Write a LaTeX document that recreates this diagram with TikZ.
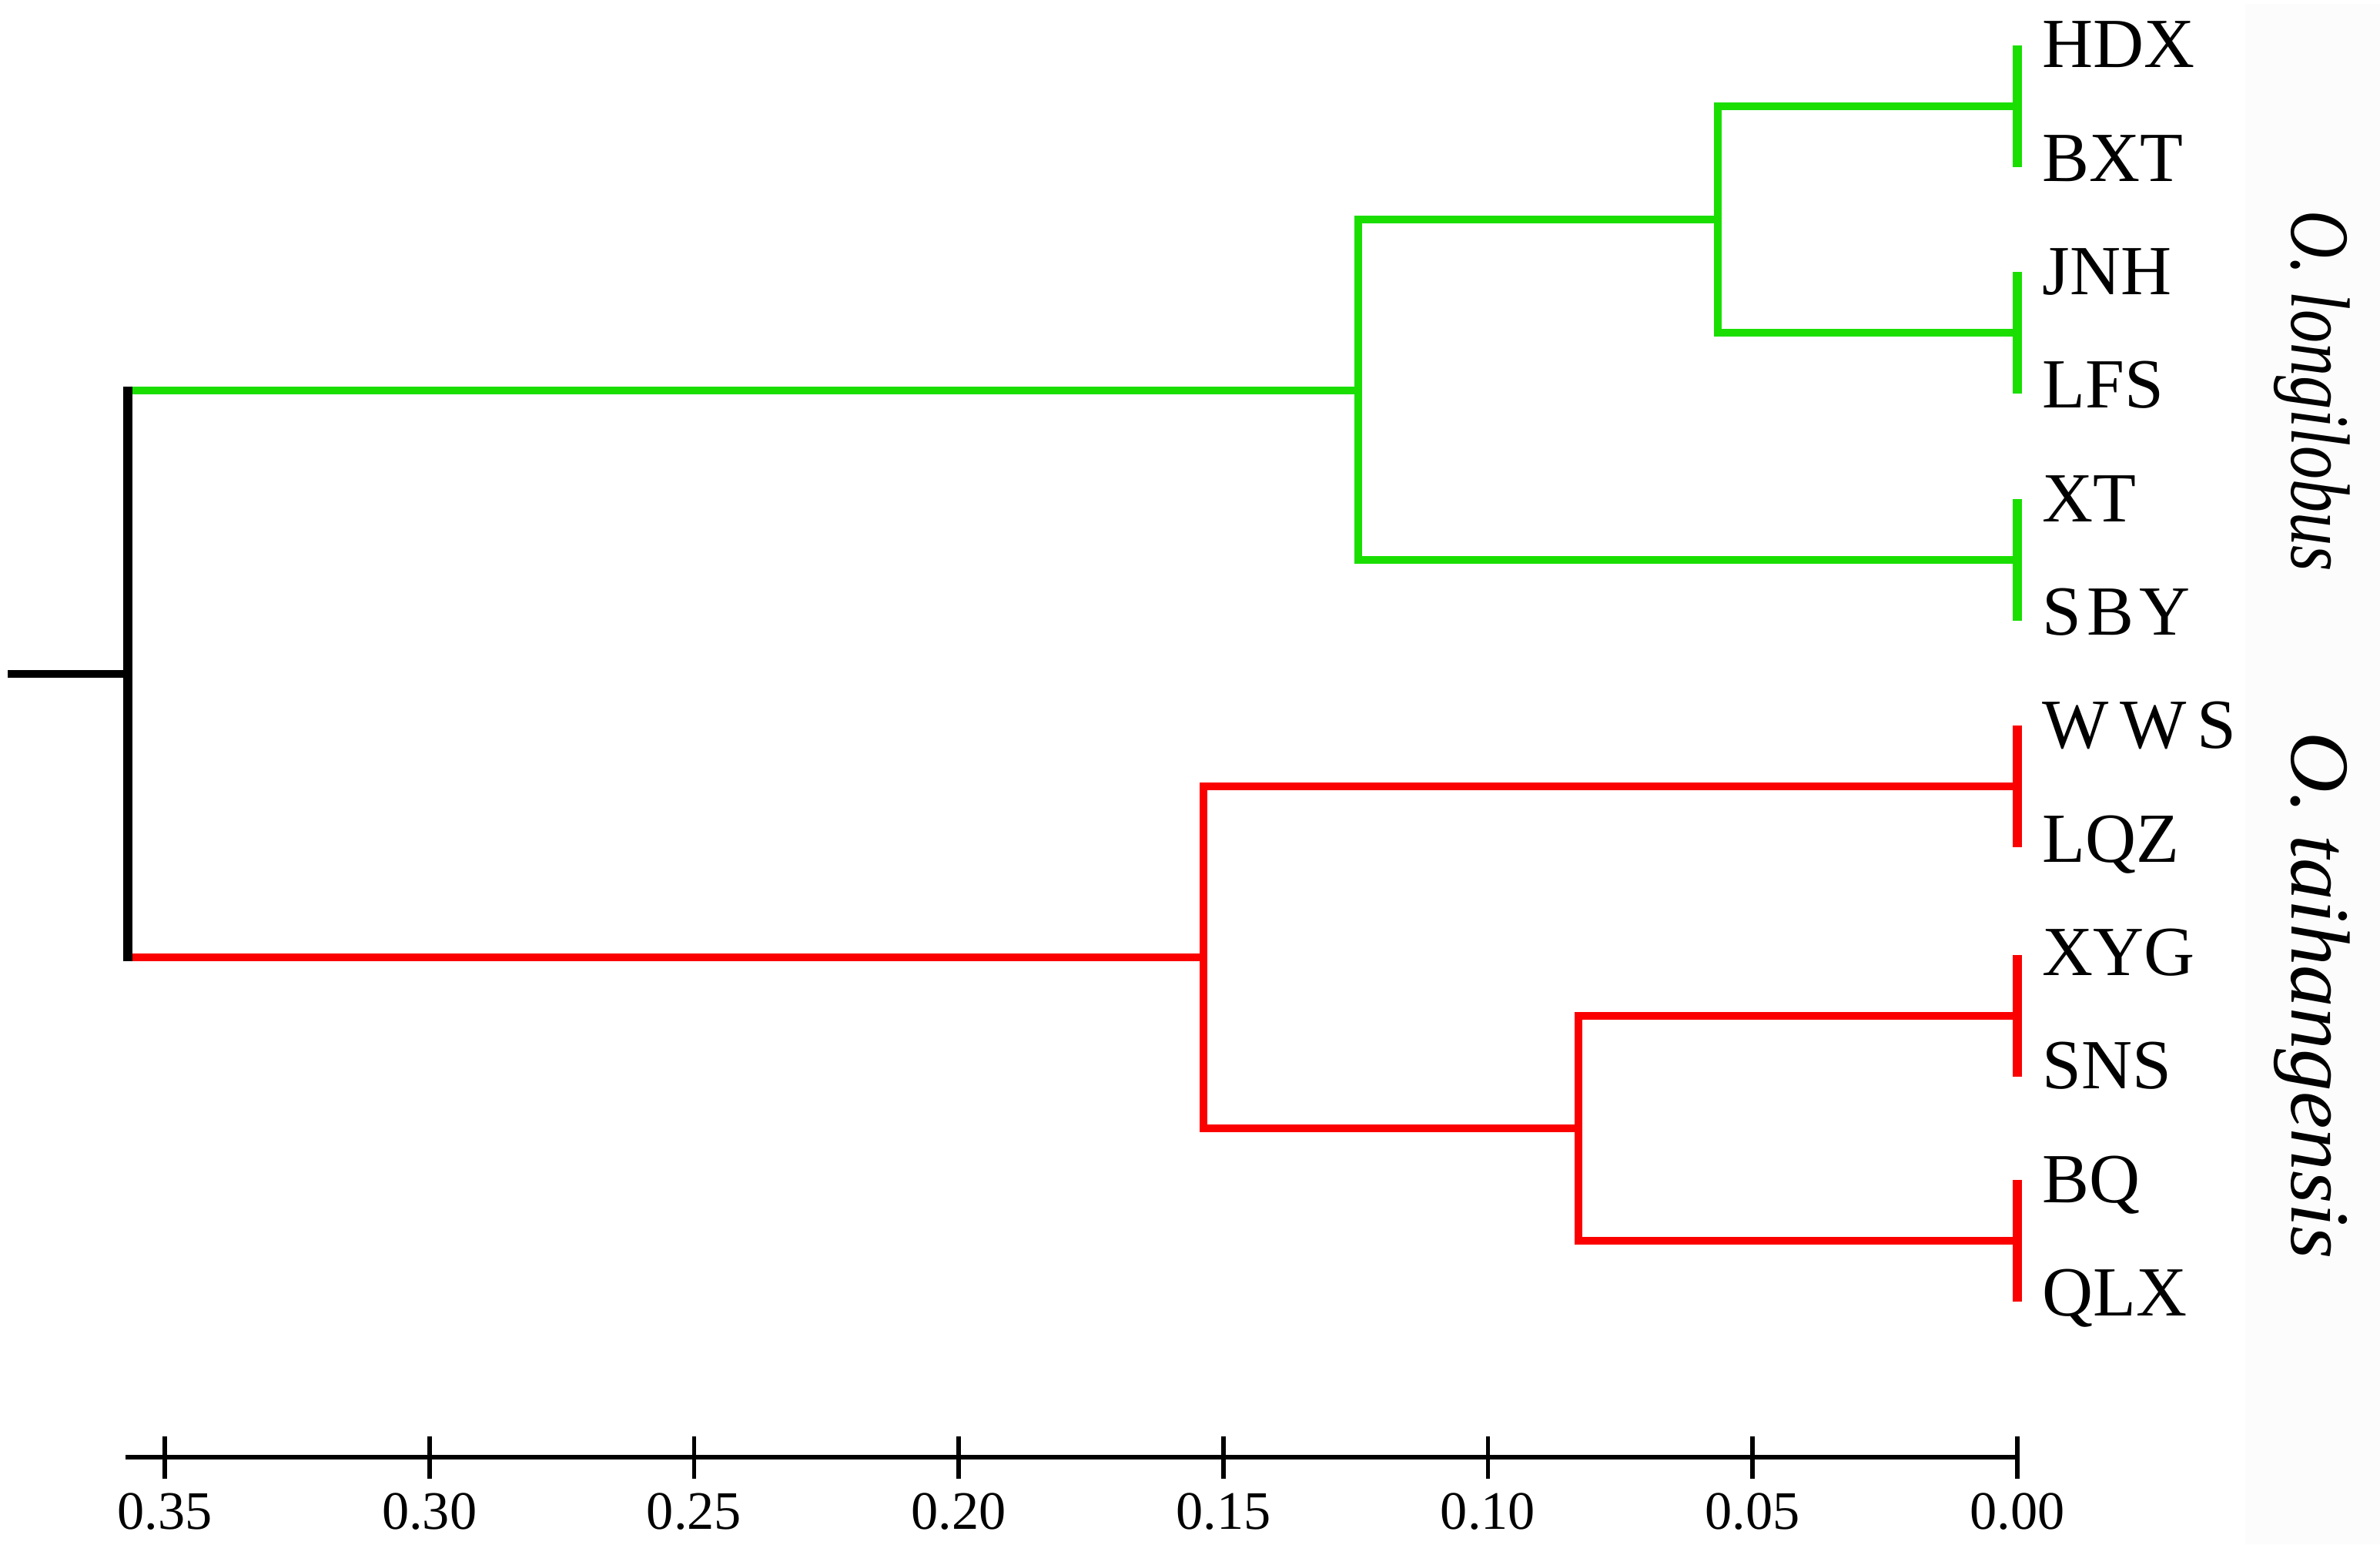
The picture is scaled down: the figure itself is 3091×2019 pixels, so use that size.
\documentclass[tikz,border=0pt]{standalone}
\usepackage{fontspec}
\usepackage{graphicx}
\setmainfont{Liberation Serif}
\usetikzlibrary{calc}

\definecolor{clgreen}{RGB}{26,222,0}
\definecolor{clred}{RGB}{250,0,0}

\begin{document}
\begin{tikzpicture}[x=0.01cm,y=-0.01cm,
  branch/.style={line width=2.9pt},
  pairbar/.style={line width=3.4pt},
  leaf/.style={anchor=base west,inner sep=0pt,font=\fontsize{26}{26}\selectfont},
  clade/.style={anchor=base,inner sep=0pt,rotate=-90,font=\fontsize{31}{31}\selectfont\itshape},
  ticklab/.style={anchor=base,inner sep=0pt,font=\fontsize{20}{20}\selectfont}]
\useasboundingbox (0,0) rectangle (3091,2019);
\fill[black!1] (2916,5) rectangle (3091,2005);

% Leaf labels
\foreach \name/\txt [count=\i from 0] in {HDX/HDX,BXT/BXT,JNH/JNH,LFS/LFS,XT/XT,SBY/{S\kern2pt B\kern2pt Y},
    WWS/{W\kern4pt W\kern4pt S},LQZ/LQZ,XYG/XYG,SNS/SNS,BQ/BQ,QLX/QLX}
  \node[leaf] (\name) at (2652,88+147.3*\i) {\txt};

% Tips of the leaf pairs
\foreach \p/\y in {p1/138,p2/432,p3/727,p4/1021,p5/1319,p6/1611}
  \coordinate (\p) at (2620,\y);

% Inner nodes
\coordinate (g12) at (2231,285);
\coordinate (g123) at (1764,507);
\coordinate (r23) at (2050,1465);
\coordinate (r123) at (1563,1243);
\coordinate (root) at (166,875);
\coordinate (stub) at (10,875);

% Pair bars
\foreach \p/\c in {p1/clgreen,p2/clgreen,p3/clgreen,p4/clred,p5/clred,p6/clred}
  \draw[pairbar,\c] ($(\p)+(0,-79)$) -- ($(\p)+(0,79)$);

% Green clade
\draw[branch,clgreen] (p1) -| (g12) |- (p2);
\draw[branch,clgreen] (g12) -| (g123) |- (p3);
\draw[branch,clgreen] (g123) -- (root |- g123);

% Red clade
\draw[branch,clred] (p4) -| (r123) |- (r23);
\draw[branch,clred] (p5) -| (r23) |- (p6);
\draw[branch,clred] (r123) -- (root |- r123);

% Root
\draw[pairbar] ($(root |- g123)+(0,-5)$) -- ($(root |- r123)+(0,5)$);
\draw[branch] (stub) -- (root);

% Clade names
\node[clade] (olong) at (2976,508) {\scalebox{0.79}[1]{O. longilobus}};
\node[clade] (otai) at (2976,1293) {O. taihangensis};

% Scale axis
\coordinate (ax0) at (163,1892);
\coordinate (ax1) at (2620,1892);
\draw[line width=1.5pt] (ax0) -- (ax1);
\foreach \v [count=\k from 0] in {0.35,0.30,0.25,0.20,0.15,0.10,0.05,0.00}{
  \draw[line width=1.6pt] (214+343.7*\k,1865) -- (214+343.7*\k,1920);
  \node[ticklab] (t\k) at (214+343.7*\k,1985) {\v};
}
\end{tikzpicture}
\end{document}
